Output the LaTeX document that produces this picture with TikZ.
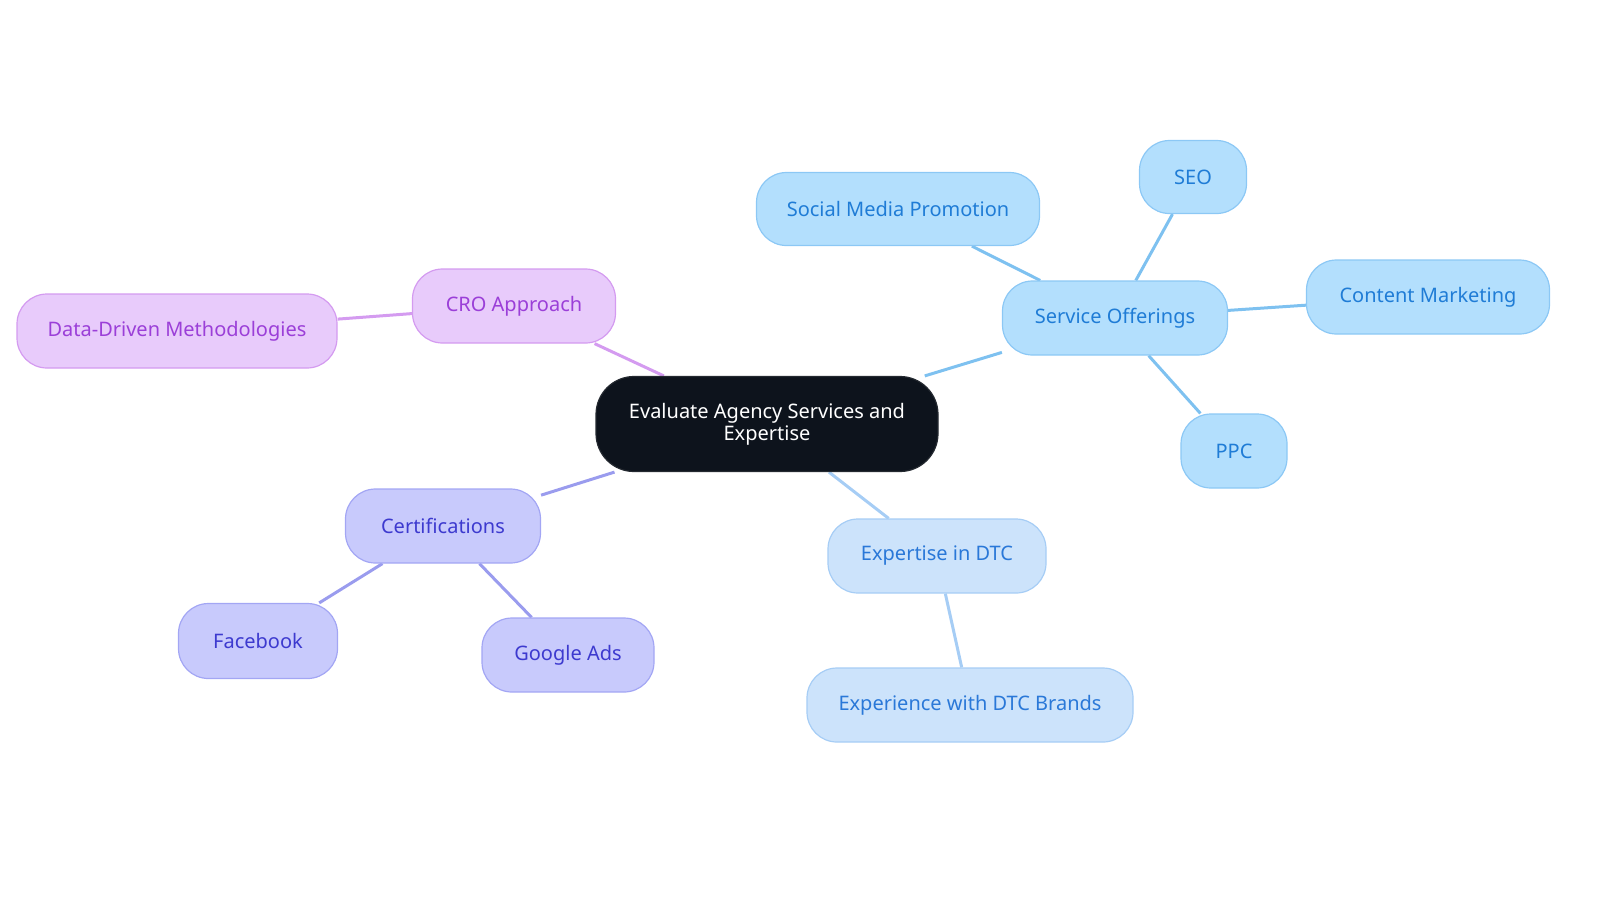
\documentclass[tikz,border=0pt]{standalone}
\usepackage{fontspec}
\setmainfont{Noto Sans}
\usetikzlibrary{backgrounds}
\definecolor{rootfill}{HTML}{0D131C}
\definecolor{purfill}{HTML}{E8CBFB}
\definecolor{purdraw}{HTML}{D49BF0}
\definecolor{purtext}{HTML}{9B3FD8}
\definecolor{indfill}{HTML}{C8CAFC}
\definecolor{inddraw}{HTML}{A3A6F4}
\definecolor{indtext}{HTML}{3D3ACF}
\definecolor{indedge}{HTML}{9A9CEE}
\definecolor{ltbfill}{HTML}{CCE3FB}
\definecolor{ltbdraw}{HTML}{A6CDF5}
\definecolor{ltbtext}{HTML}{2A78D8}
\definecolor{skyfill}{HTML}{B3DFFD}
\definecolor{skydraw}{HTML}{8CC8F5}
\definecolor{skytext}{HTML}{1F7CD6}
\definecolor{skyedge}{HTML}{7EC1F0}
\tikzset{
  x=1pt, y=-1pt,
  box/.style={rounded corners=30pt, inner sep=0pt, minimum height=74pt, line width=1.2pt, font=\fontsize{20}{22}\selectfont, align=center},
  rootbox/.style={box, fill=rootfill, draw=rootfill!80!gray, text=white, rounded corners=38pt},
  purbox/.style={box, fill=purfill, draw=purdraw, text=purtext},
  indbox/.style={box, fill=indfill, draw=inddraw, text=indtext},
  ltbbox/.style={box, fill=ltbfill, draw=ltbdraw, text=ltbtext},
  skybox/.style={box, fill=skyfill, draw=skydraw, text=skytext},
  edge/.style={line width=3pt},
}
\begin{document}
\begin{tikzpicture}
\useasboundingbox (0,0) rectangle (1600,903);
\node[rootbox, minimum width=342pt, minimum height=95pt] (root) at (767,424) {Evaluate Agency Services and\\Expertise};
\node[purbox, minimum width=203pt] (cro) at (514,306) {CRO Approach};
\node[purbox, minimum width=320pt] (ddm) at (177,331) {Data-Driven Methodologies};
\node[indbox, minimum width=195pt] (cert) at (443,526) {Certifications};
\node[indbox, minimum width=159pt, minimum height=75pt] (fb) at (258,641) {Facebook};
\node[indbox, minimum width=172pt] (gads) at (568,655) {Google Ads};
\node[ltbbox, minimum width=218pt] (dtc) at (937,556) {Expertise in DTC};
\node[ltbbox, minimum width=326pt] (dtcb) at (970,705) {Experience with DTC Brands};
\node[skybox, minimum width=225pt] (svc) at (1115,318) {Service Offerings};
\node[skybox, minimum width=283pt, minimum height=73pt] (smp) at (898,209) {Social Media Promotion};
\node[skybox, minimum width=107pt, minimum height=73pt] (seo) at (1193,177) {SEO};
\node[skybox, minimum width=243pt] (cm) at (1428,297) {Content Marketing};
\node[skybox, minimum width=106pt] (ppc) at (1234,451) {PPC};
\begin{scope}[on background layer]
\draw[edge, purdraw] (root) -- (cro);
\draw[edge, purdraw] (cro) -- (ddm);
\draw[edge, indedge] (root) -- (cert);
\draw[edge, indedge] (cert) -- (fb);
\draw[edge, indedge] (cert) -- (gads);
\draw[edge, ltbdraw] (root) -- (dtc);
\draw[edge, ltbdraw] (dtc) -- (dtcb);
\draw[edge, skyedge] (root) -- (svc);
\draw[edge, skyedge] (svc) -- (smp);
\draw[edge, skyedge] (svc) -- (seo);
\draw[edge, skyedge] (svc) -- (cm);
\draw[edge, skyedge] (svc) -- (ppc);
\end{scope}
\end{tikzpicture}
\end{document}
